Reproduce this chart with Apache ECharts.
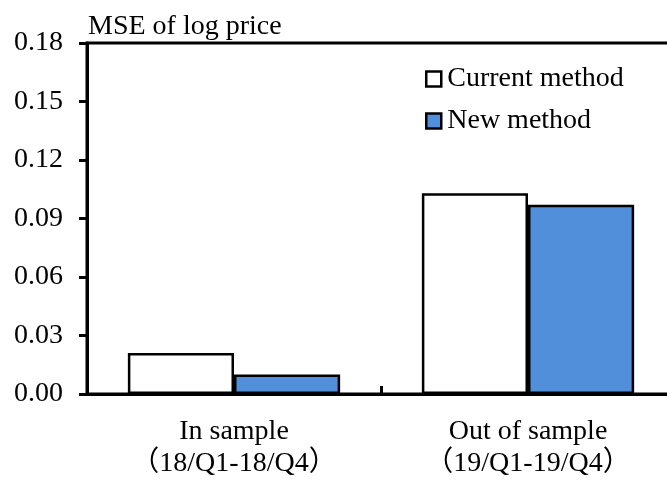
<!DOCTYPE html>
<html>
<head>
<meta charset="utf-8">
<script src="https://cdn.jsdelivr.net/npm/echarts@6/dist/echarts.min.js"></script>
<style>html,body{margin:0;padding:0;background:#fff;overflow:hidden;width:667px;height:480px}#c{width:680px;height:480px}</style>
</head>
<body>
<div id="c"></div>
<script>
const categories = ['In sample\n（18/Q1-18/Q4）', 'Out of sample\n（19/Q1-19/Q4）'];
const seriesNames = ['Current method', 'New method'];
const currentValues = [0.021, 0.103];
const newValues = [0.010, 0.097];
const yTitle = 'MSE of log price';

const FONT = "'Liberation Serif', 'Noto Sans CJK JP', serif";
const FS = 28;
const chart = echarts.init(document.getElementById('c'), null, {renderer: 'canvas'});
chart.setOption({
  animation: false,
  backgroundColor: '#fff',
  textStyle: {fontFamily: FONT, color: '#000'},
  title: {
    text: yTitle, left: 88, top: 13, padding: 0,
    textStyle: {fontFamily: FONT, fontSize: FS, fontWeight: 'normal', color: '#000'}
  },
  legend: {
    orient: 'vertical', left: 425, top: 65, itemGap: 14, padding: 0,
    itemWidth: 15, itemHeight: 15, icon: 'rect',
    itemStyle: {borderColor: '#000', borderWidth: 2.5},
    textStyle: {fontFamily: FONT, fontSize: FS, color: '#000', padding: [0,0,0,1]},
    data: seriesNames
  },
  grid: {left: 87, top: 43, width: 588, height: 351, show: true, borderColor: '#000', borderWidth: 3, containLabel: false},
  xAxis: {
    type: 'category', data: categories,
    axisLine: {lineStyle: {color: '#000', width: 3}},
    axisTick: {show: true, inside: true, length: 8, lineStyle: {color: '#000', width: 3}},
    axisLabel: {fontFamily: FONT, fontSize: FS, color: '#000', lineHeight: 32, margin: 22}
  },
  yAxis: {
    type: 'value', min: 0, max: 0.18, interval: 0.03,
    axisLine: {show: true, lineStyle: {color: '#000', width: 3}},
    axisTick: {show: true, inside: false, length: 8, lineStyle: {color: '#000', width: 3}},
    splitLine: {show: false},
    axisLabel: {fontFamily: FONT, fontSize: FS, color: '#000', margin: 24, formatter: v => v.toFixed(2)}
  },
  series: [
    {name: seriesNames[0], type: 'bar', data: currentValues, barGap: '0%', barCategoryGap: '27.8%',
     itemStyle: {color: '#ffffff', borderColor: '#000', borderWidth: 2.5}},
    {name: seriesNames[1], type: 'bar', data: newValues, barGap: '0%', barCategoryGap: '27.8%',
     itemStyle: {color: '#518fda', borderColor: '#000', borderWidth: 2.5}}
  ]
});
</script>
</body>
</html>
